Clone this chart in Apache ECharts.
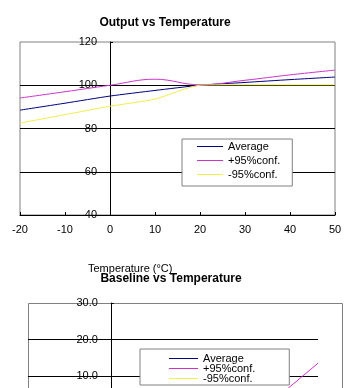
<!DOCTYPE html>
<html>
<head>
<meta charset="utf-8">
<script src="https://cdn.jsdelivr.net/npm/echarts@6/dist/echarts.min.js"></script>
<style>
  html, body { margin: 0; padding: 0; background: #fff; }
  #chart { width: 354px; height: 388px; }
</style>
</head>
<body>
<div id="chart"></div>
<script>
// temperatures (°C), shared by both charts
const temps = [-20, -10, 0, 10, 20, 30, 40, 50];

// Output vs Temperature
const outAverage = [88.5, 91.7, 95.0, 97.6, 100.0, 101.3, 102.6, 103.8];
const outPlus95 = [94.1, 97.0, 100.0, 102.8, 100.2, 102.3, 104.8, 107.0];
const outMinus95 = [82.5, 86.4, 90.3, 93.6, 100.0, 100.2, 100.2, 100.2];

// Baseline vs Temperature (only the top of it is visible)
const baseAverage = [-16, -13, -10, -7, -4, -1, 2, 5];
const basePlus95 = [-14, -11, -8, -5, -2, 1, 4, 13.5];
const baseMinus95 = [-19, -16, -13, -10, -7, -4, -1, 1];

const seriesNames = ['Average', '+95%conf.', '-95%conf.'];
const colors = ['#000080', '#CC33CC', '#F2EE4A'];

const chart = echarts.init(document.getElementById('chart'));

const font = 'Liberation Sans, Arial, sans-serif';
const pairs = (ys) => temps.map((t, i) => [t, ys[i]]);

function lineSeries(name, ys, axisIdx, color, smooth) {
    return {
        name: name,
        type: 'line',
        xAxisIndex: axisIdx,
        yAxisIndex: axisIdx,
        data: pairs(ys),
        symbol: 'none',
        smooth: smooth,
        lineStyle: { color: color, width: 1 },
        itemStyle: { color: color },
        animation: false
    };
}

const xAxisBase = {
    type: 'value',
    min: -20,
    max: 50,
    interval: 10,
    splitLine: { show: false },
    axisLine: { onZero: false, lineStyle: { color: '#000', width: 1 } },
    axisTick: { inside: true, length: 3, lineStyle: { color: '#000' } },
    axisLabel: { color: '#000', fontFamily: font, fontSize: 11, margin: 9 }
};

// y axes sit at x = 0, so shift them in from the grid's left edge
const upperGrid = { left: 20, top: 42, width: 315, height: 173 };
const lowerGrid = { left: 28, top: 303, width: 290, height: 182.5 };
const zeroShift = (g) => -g.width * 20 / 70;

// thin bar used as legend key (keeps its aspect, so it stays a 1px line;
// odd item heights keep it on a whole pixel row)
const lineKey = (w) => 'path://M0,0H' + w + 'V1H0Z';

const option = {
    backgroundColor: '#fff',
    animation: false,
    title: [
        {
            text: 'Output vs Temperature',
            left: 160, top: 12, textAlign: 'center',
            textStyle: { fontFamily: font, fontSize: 12, fontWeight: 'bold', color: '#000' }
        },
        {
            text: 'Baseline vs Temperature',
            left: 166, top: 268, textAlign: 'center',
            textStyle: { fontFamily: font, fontSize: 12, fontWeight: 'bold', color: '#000' }
        }
    ],
    legend: [
        {
            data: seriesNames,
            orient: 'vertical',
            left: 182, top: 139,
            padding: [2, 12, 6, 15],
            icon: lineKey(26),
            itemWidth: 26, itemHeight: 13, itemGap: 3,
            backgroundColor: '#fff',
            borderColor: '#808080', borderWidth: 1, borderRadius: 0,
            selectedMode: false,
            textStyle: { fontFamily: font, fontSize: 11, color: '#000' }
        },
        {
            // rows slightly overlap (negative gap) to get the tight 10px spacing
            data: seriesNames,
            orient: 'vertical',
            left: 140, top: 349,
            height: 80,
            padding: [4, 34, 1, 29],
            icon: lineKey(29),
            itemWidth: 29, itemHeight: 11, itemGap: -1,
            backgroundColor: '#fff',
            borderColor: '#808080', borderWidth: 1, borderRadius: 0,
            selectedMode: false,
            textStyle: { fontFamily: font, fontSize: 11, lineHeight: 11, color: '#000' }
        }
    ],
    grid: [
        Object.assign({ show: true, borderColor: '#808080', borderWidth: 1, backgroundColor: '#fff', outerBoundsMode: 'none', containLabel: false }, upperGrid),
        Object.assign({ show: false, outerBoundsMode: 'none', containLabel: false }, lowerGrid)
    ],
    xAxis: [
        Object.assign({}, xAxisBase, { gridIndex: 0 }),
        Object.assign({}, xAxisBase, { gridIndex: 1 })
    ],
    yAxis: [
        {
            gridIndex: 0,
            type: 'value',
            min: 40, max: 120, interval: 20,
            offset: zeroShift(upperGrid),
            axisLine: { show: true, onZero: false, lineStyle: { color: '#000' } },
            axisTick: { show: true, inside: true, length: 3, lineStyle: { color: '#000' } },
            axisLabel: { color: '#000', fontFamily: font, fontSize: 11, margin: 13 },
            splitLine: { show: true, showMaxLine: false, lineStyle: { color: '#000', width: 1 } }
        },
        {
            gridIndex: 1,
            type: 'value',
            min: -20, max: 30, interval: 10,
            offset: zeroShift(lowerGrid),
            axisLine: { show: true, onZero: false, lineStyle: { color: '#000' } },
            axisTick: { show: true, inside: true, length: 3, lineStyle: { color: '#000' } },
            axisLabel: {
                color: '#000', fontFamily: font, fontSize: 11, margin: 13,
                formatter: (v) => v.toFixed(1)
            },
            splitLine: { show: true, showMaxLine: false, lineStyle: { color: '#000', width: 1 } }
        }
    ],
    graphic: [
        {
            // plot-area frame of the lower chart (wider than its gridlines)
            type: 'rect',
            shape: { x: 28.5, y: 303.5, width: 314, height: 182 },
            style: { fill: null, stroke: '#808080', lineWidth: 1 },
            z: 0, silent: true
        },
        {
            // x axis title of the upper chart, sitting on the lower title
            type: 'text',
            left: 88, top: 263,
            style: { text: 'Temperature (°C)', font: '11px ' + font, fill: '#000' },
            z: 10
        }
    ],
    series: [
        lineSeries(seriesNames[0], outAverage, 0, colors[0], 0.2),
        lineSeries(seriesNames[1], outPlus95, 0, colors[1], 0.4),
        lineSeries(seriesNames[2], outMinus95, 0, colors[2], 0.2),
        lineSeries(seriesNames[0], baseAverage, 1, colors[0], false),
        lineSeries(seriesNames[1], basePlus95, 1, colors[1], false),
        lineSeries(seriesNames[2], baseMinus95, 1, colors[2], false)
    ]
};

chart.setOption(option);
</script>
</body>
</html>
